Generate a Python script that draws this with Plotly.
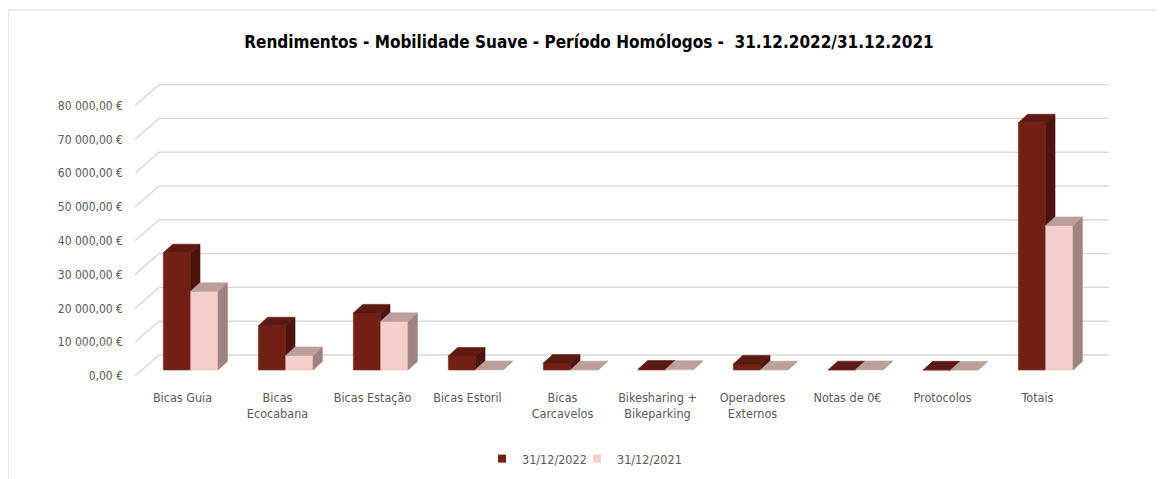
import plotly.graph_objects as go

# ---------------- data ----------------
categories = ["Bicas Guia", "Bicas<br>Ecocabana", "Bicas Estação", "Bicas Estoril",
              "Bicas<br>Carcavelos", "Bikesharing +<br>Bikeparking", "Operadores<br>Externos",
              "Notas de 0€", "Protocolos", "Totais"]
series_names = ["31/12/2022", "31/12/2021"]
values_2022 = [34700, 13100, 16900, 4150, 2050, 300, 1800, 100, 50, 73150]
values_2021 = [23300, 4300, 14400, 150, 100, 250, 100, 150, 0, 42750]
tick_values = [0, 10000, 20000, 30000, 40000, 50000, 60000, 70000, 80000]
tick_labels = ["0,00 €", "10 000,00 €", "20 000,00 €", "30 000,00 €", "40 000,00 €",
               "50 000,00 €", "60 000,00 €", "70 000,00 €", "80 000,00 €"]

# ---------------- style / pseudo-3D geometry ----------------
FONT = "Liberation Sans Narrow, DejaVu Sans Condensed, Arial Narrow, Liberation Sans, sans-serif"
GRAY = "#595959"
BAR_W = 0.288          # width of one bar (category units)
DEPTH_X = 0.098        # bar depth offset (category units)
DEPTH_Y = 2515         # bar depth offset (value units)
BACK_X, BACK_Y = 0.166, 4438      # back wall offset from bar plane
FRONT_X, FRONT_Y = -0.0863, -1775  # front edge offset from bar plane

colors = {
    "31/12/2022": {"front": "#722014", "side": "#4e130d", "top": "#5c1a12", "edge": "#7e3328"},
    "31/12/2021": {"front": "#f5cfc9", "side": "#9e837f", "top": "#bb9f9a", "edge": "#e9c3bd"},
}

n = len(categories)
fig = go.Figure()

# gridlines (back wall + diagonal on the left side wall)
gx, gy = [], []
for g in tick_values:
    gx += [-0.5 + FRONT_X, -0.5 + BACK_X, n - 0.5 + BACK_X, None]
    gy += [g + FRONT_Y, g + BACK_Y, g + BACK_Y, None]
fig.add_trace(go.Scatter(x=gx, y=gy, mode="lines", line=dict(color="#d9d9d9", width=1.4),
                         hoverinfo="skip", showlegend=False))


def faces(vals, offset):
    fx, fy, sx, sy, tx, ty = [], [], [], [], [], []
    for i, v in enumerate(vals):
        x0 = i + offset
        x1 = x0 + BAR_W
        fx += [x0, x0, x1, x1, x0, None]
        fy += [0, v, v, 0, 0, None]
        sx += [x1, x1, x1 + DEPTH_X, x1 + DEPTH_X, x1, None]
        sy += [0, v, v + DEPTH_Y, DEPTH_Y, 0, None]
        tx += [x0, x0 + DEPTH_X, x1 + DEPTH_X, x1, x0, None]
        ty += [v, v + DEPTH_Y, v + DEPTH_Y, v, v, None]
    return (fx, fy), (sx, sy), (tx, ty)


for name, vals, off in [(series_names[0], values_2022, -BAR_W), (series_names[1], values_2021, 0.0)]:
    c = colors[name]
    front, side, top = faces(vals, off)
    for (xx, yy), key in [(front, "front"), (side, "side"), (top, "top")]:
        fig.add_trace(go.Scatter(x=xx, y=yy, mode="lines", fill="toself", fillcolor=c[key],
                                 line=dict(color=c["edge"] if key == "front" else c[key], width=0.6),
                                 hoverinfo="skip", showlegend=False))

# legend entries (one legend box per series so the spacing can match)
for name, leg in zip(series_names, ["legend", "legend2"]):
    fig.add_trace(go.Scatter(x=[None], y=[None], mode="markers", name=name, legend=leg,
                             marker=dict(symbol="square", size=8, color=colors[name]["front"])))

# ---------------- layout ----------------
OFF = 8                      # page body margin of the html page
W, H = 1164, 479
L, R, T, B = 128, 1116, 65, 388   # plot area in page pixels
px_per_unit = 95.0
px_per_val = 0.00338
x_left = (L - 190.7) / px_per_unit
x_right = (R - 190.7) / px_per_unit
y_bottom = (370 - B) / px_per_val
y_top = (370 - T) / px_per_val

legend_common = dict(orientation="h", yanchor="middle", y=(B - 459) / (B - T),
                     xanchor="left", font=dict(size=12.5, color=GRAY), itemwidth=30,
                     bgcolor="rgba(0,0,0,0)")

fig.update_layout(
    width=W, height=H,
    margin=dict(l=L - OFF, r=W - (R - OFF), t=T - OFF, b=H - (B - OFF)),
    paper_bgcolor="white", plot_bgcolor="white",
    font=dict(family=FONT, color=GRAY, size=12.5),
    title=dict(text="<b>Rendimentos - Mobilidade Suave - Período Homólogos -\u00a0\u00a031.12.2022/31.12.2021</b>",
               font=dict(family=FONT, size=17, color="#000000"),
               xref="container", x=(589 - OFF) / W, xanchor="center",
               yref="container", y=1 - (42 - OFF) / H, yanchor="middle"),
    xaxis=dict(range=[x_left, x_right], showgrid=False, zeroline=False, showline=False,
               tickmode="array", tickvals=[i + FRONT_X for i in range(n)], ticktext=categories,
               ticks="", tickfont=dict(size=12.5, color=GRAY), fixedrange=True),
    yaxis=dict(range=[y_bottom, y_top], showgrid=False, zeroline=False, showline=False,
               tickmode="array", tickvals=[g + FRONT_Y for g in tick_values], ticktext=tick_labels,
               ticks="", ticklabelstandoff=4, tickfont=dict(size=12, color=GRAY), fixedrange=True),
    legend=dict(legend_common, x=(482 - L) / (R - L)),
    legend2=dict(legend_common, x=(577 - L) / (R - L)),
    shapes=[dict(type="rect", xref="paper", yref="paper",
                 x0=(8 - L) / (R - L), x1=(1180 - L) / (R - L),
                 y0=(B - 495) / (B - T), y1=(B - 10) / (B - T),
                 line=dict(color="#d9d9d9", width=1.2), fillcolor="rgba(0,0,0,0)", layer="below")],
)

fig.write_html("out.html")
